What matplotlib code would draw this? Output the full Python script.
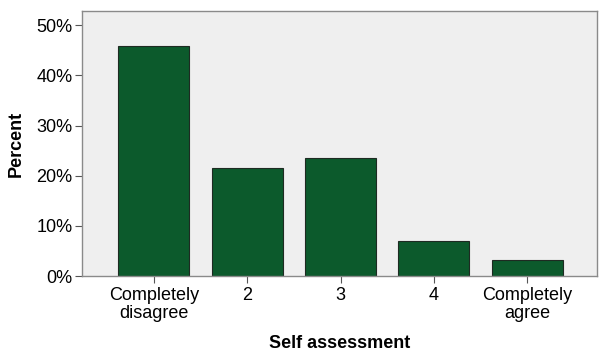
import matplotlib
matplotlib.use("Agg")
import matplotlib.pyplot as plt
from matplotlib.ticker import PercentFormatter

categories = ["Completely\ndisagree", "2", "3", "4", "Completely\nagree"]
percent = [45.8, 21.5, 23.5, 7.0, 3.2]

plt.rcParams["font.family"] = ["Liberation Sans", "DejaVu Sans"]

fig = plt.figure(figsize=(5.99, 3.56), dpi=100)
ax = fig.add_axes([0.137, 0.2247, 0.86, 0.744])
ax.set_facecolor("#efefef")

x = range(len(categories))
ax.bar(x, percent, width=0.76, color="#0c5a2c", edgecolor="#1e2a22", linewidth=0.8, zorder=2)

ax.set_xlim(-0.77, 4.75)
ax.set_ylim(0, 52.8)
ax.set_yticks([0, 10, 20, 30, 40, 50])
ax.yaxis.set_major_formatter(PercentFormatter(decimals=0))
ax.set_xticks(list(x))
ax.set_xticklabels(categories, fontsize=13, linespacing=1.1)
ax.tick_params(axis="y", labelsize=13, length=5, color="#555555", pad=2)
ax.tick_params(axis="x", length=5, color="#555555", pad=3)

for s in ax.spines.values():
    s.set_color("#8a8a8a")
    s.set_linewidth(1.0)

ax.set_xlabel("Self assessment", fontsize=13, fontweight="bold", labelpad=9)
ax.set_ylabel("Percent", fontsize=13, fontweight="bold", labelpad=8)

fig.savefig("out.png", dpi=100)
